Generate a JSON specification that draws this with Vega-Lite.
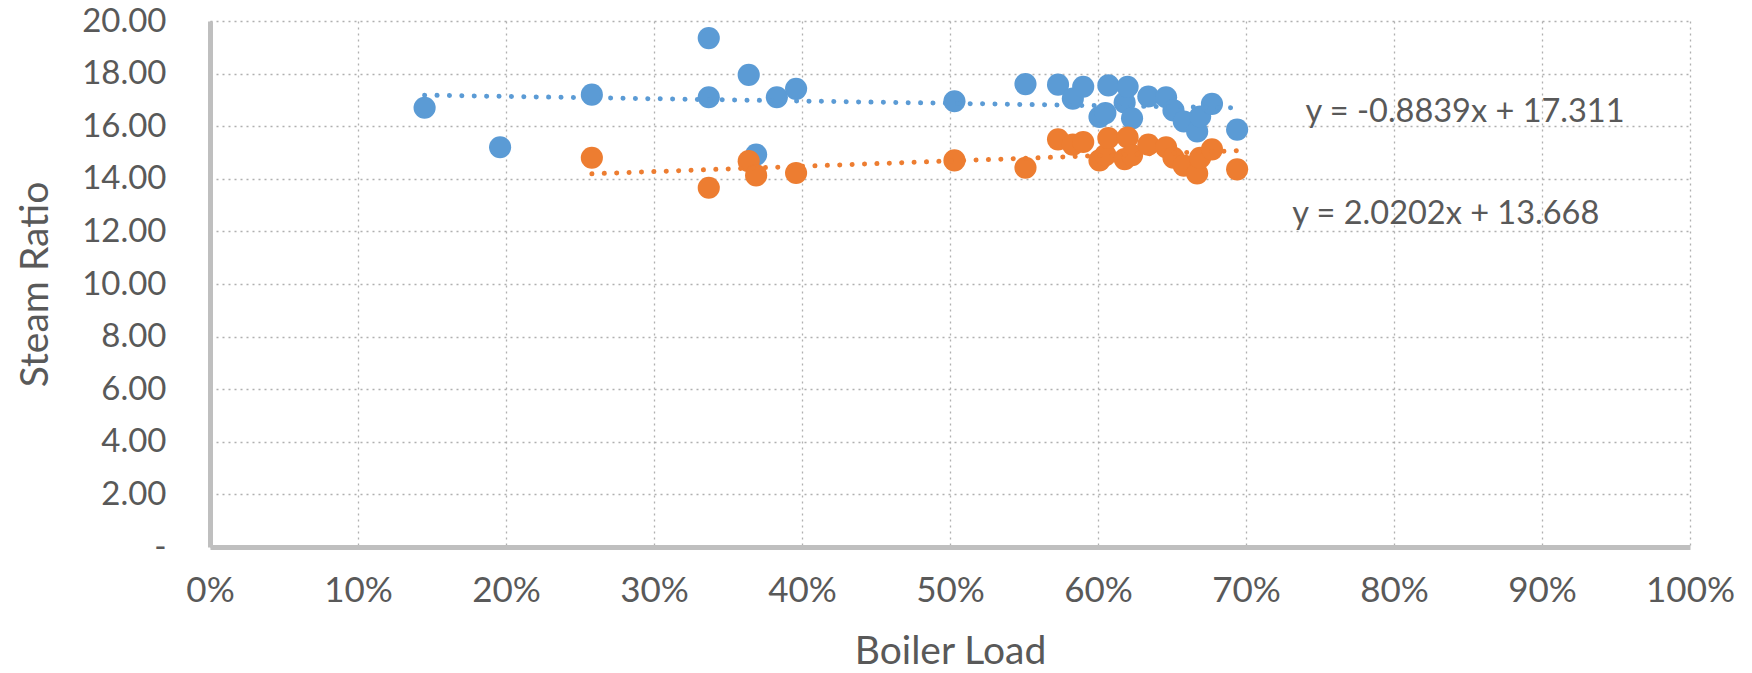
{
  "$schema": "https://vega.github.io/schema/vega-lite/v6.json",
  "autosize": "none",
  "padding": {"left": 210, "top": 21, "right": 62, "bottom": 126},
  "width": 1480,
  "height": 526,
  "background": "white",
  "config": {
    "font": "Lato",
    "view": {"stroke": null},
    "axis": {
      "labelFont": "Lato",
      "titleFont": "Lato",
      "labelColor": "#595959",
      "titleColor": "#595959",
      "labelFontSize": 35,
      "titleFontSize": 39,
      "titleFontWeight": "normal",
      "labelFlush": false,
      "ticks": false,
      "domainColor": "#bfbfbf",
      "domainWidth": 5,
      "gridColor": "#b0b0b0",
      "gridDash": [2, 4],
      "gridWidth": 1.3
    }
  },
  "datasets": {
    "pts": [
      {"load": 0.145, "ratio": 16.7, "series": "s1"},
      {"load": 0.196, "ratio": 15.2, "series": "s1"},
      {"load": 0.258, "ratio": 17.2, "series": "s1"},
      {"load": 0.337, "ratio": 19.35, "series": "s1"},
      {"load": 0.337, "ratio": 17.1, "series": "s1"},
      {"load": 0.364, "ratio": 17.95, "series": "s1"},
      {"load": 0.369, "ratio": 14.92, "series": "s1"},
      {"load": 0.383, "ratio": 17.1, "series": "s1"},
      {"load": 0.396, "ratio": 17.42, "series": "s1"},
      {"load": 0.503, "ratio": 16.95, "series": "s1"},
      {"load": 0.551, "ratio": 17.6, "series": "s1"},
      {"load": 0.573, "ratio": 17.58, "series": "s1"},
      {"load": 0.583, "ratio": 17.05, "series": "s1"},
      {"load": 0.590, "ratio": 17.5, "series": "s1"},
      {"load": 0.601, "ratio": 16.35, "series": "s1"},
      {"load": 0.605, "ratio": 16.5, "series": "s1"},
      {"load": 0.607, "ratio": 17.55, "series": "s1"},
      {"load": 0.618, "ratio": 16.9, "series": "s1"},
      {"load": 0.620, "ratio": 17.5, "series": "s1"},
      {"load": 0.623, "ratio": 16.3, "series": "s1"},
      {"load": 0.634, "ratio": 17.13, "series": "s1"},
      {"load": 0.646, "ratio": 17.1, "series": "s1"},
      {"load": 0.651, "ratio": 16.6, "series": "s1"},
      {"load": 0.658, "ratio": 16.18, "series": "s1"},
      {"load": 0.667, "ratio": 15.8, "series": "s1"},
      {"load": 0.669, "ratio": 16.37, "series": "s1"},
      {"load": 0.677, "ratio": 16.85, "series": "s1"},
      {"load": 0.694, "ratio": 15.87, "series": "s1"},
      {"load": 0.258, "ratio": 14.8, "series": "s2"},
      {"load": 0.337, "ratio": 13.66, "series": "s2"},
      {"load": 0.364, "ratio": 14.67, "series": "s2"},
      {"load": 0.369, "ratio": 14.13, "series": "s2"},
      {"load": 0.396, "ratio": 14.22, "series": "s2"},
      {"load": 0.503, "ratio": 14.7, "series": "s2"},
      {"load": 0.551, "ratio": 14.42, "series": "s2"},
      {"load": 0.573, "ratio": 15.5, "series": "s2"},
      {"load": 0.583, "ratio": 15.3, "series": "s2"},
      {"load": 0.590, "ratio": 15.4, "series": "s2"},
      {"load": 0.601, "ratio": 14.7, "series": "s2"},
      {"load": 0.605, "ratio": 14.9, "series": "s2"},
      {"load": 0.607, "ratio": 15.55, "series": "s2"},
      {"load": 0.618, "ratio": 14.75, "series": "s2"},
      {"load": 0.620, "ratio": 15.57, "series": "s2"},
      {"load": 0.623, "ratio": 14.9, "series": "s2"},
      {"load": 0.634, "ratio": 15.3, "series": "s2"},
      {"load": 0.646, "ratio": 15.2, "series": "s2"},
      {"load": 0.651, "ratio": 14.8, "series": "s2"},
      {"load": 0.658, "ratio": 14.5, "series": "s2"},
      {"load": 0.667, "ratio": 14.2, "series": "s2"},
      {"load": 0.669, "ratio": 14.8, "series": "s2"},
      {"load": 0.677, "ratio": 15.12, "series": "s2"},
      {"load": 0.694, "ratio": 14.36, "series": "s2"}
    ],
    "trend": [
      {"load": 0.145, "ratio": 17.18, "series": "s1"},
      {"load": 0.694, "ratio": 16.70, "series": "s1"},
      {"load": 0.258, "ratio": 14.19, "series": "s2"},
      {"load": 0.694, "ratio": 15.07, "series": "s2"}
    ],
    "eq": [
      {"load": 0.848, "ratio": 16.55, "label": "y = -0.8839x + 17.311"},
      {"load": 0.835, "ratio": 12.65, "label": "y = 2.0202x + 13.668"}
    ]
  },
  "encoding": {
    "x": {
      "field": "load", "type": "quantitative",
      "scale": {"domain": [0, 1], "nice": false},
      "axis": {
        "title": "Boiler Load",
        "values": [0, 0.1, 0.2, 0.3, 0.4, 0.5, 0.6, 0.7, 0.8, 0.9, 1],
        "format": ".0%",
        "labelPadding": 26,
        "titlePadding": 24,
        "grid": true
      }
    },
    "y": {
      "field": "ratio", "type": "quantitative",
      "scale": {"domain": [0, 20], "nice": false},
      "axis": {
        "title": "Steam Ratio",
        "values": [0, 2, 4, 6, 8, 10, 12, 14, 16, 18, 20],
        "labelExpr": "datum.value == 0 ? '-' : format(datum.value, '.2f')",
        "labelFontSize": 33,
        "labelPadding": 44,
        "titlePadding": 26,
        "grid": true
      }
    }
  },
  "layer": [
    {
      "data": {"name": "pts"},
      "mark": {"type": "point", "filled": true, "shape": "circle", "size": 490, "opacity": 1},
      "encoding": {
        "color": {
          "field": "series", "type": "nominal",
          "scale": {"domain": ["s1", "s2"], "range": ["#5B9BD5", "#ED7D31"]},
          "legend": null
        }
      }
    },
    {
      "data": {"name": "trend"},
      "mark": {"type": "line", "strokeWidth": 5, "strokeCap": "round", "strokeDash": [0.1, 12.3]},
      "encoding": {
        "detail": {"field": "series"},
        "color": {
          "field": "series", "type": "nominal",
          "scale": {"domain": ["s1", "s2"], "range": ["#5B9BD5", "#ED7D31"]},
          "legend": null
        }
      }
    },
    {
      "data": {"name": "eq"},
      "mark": {"type": "text", "font": "Lato", "fontSize": 32.5, "color": "#595959", "align": "center", "baseline": "middle"},
      "encoding": {"text": {"field": "label"}}
    }
  ]
}
